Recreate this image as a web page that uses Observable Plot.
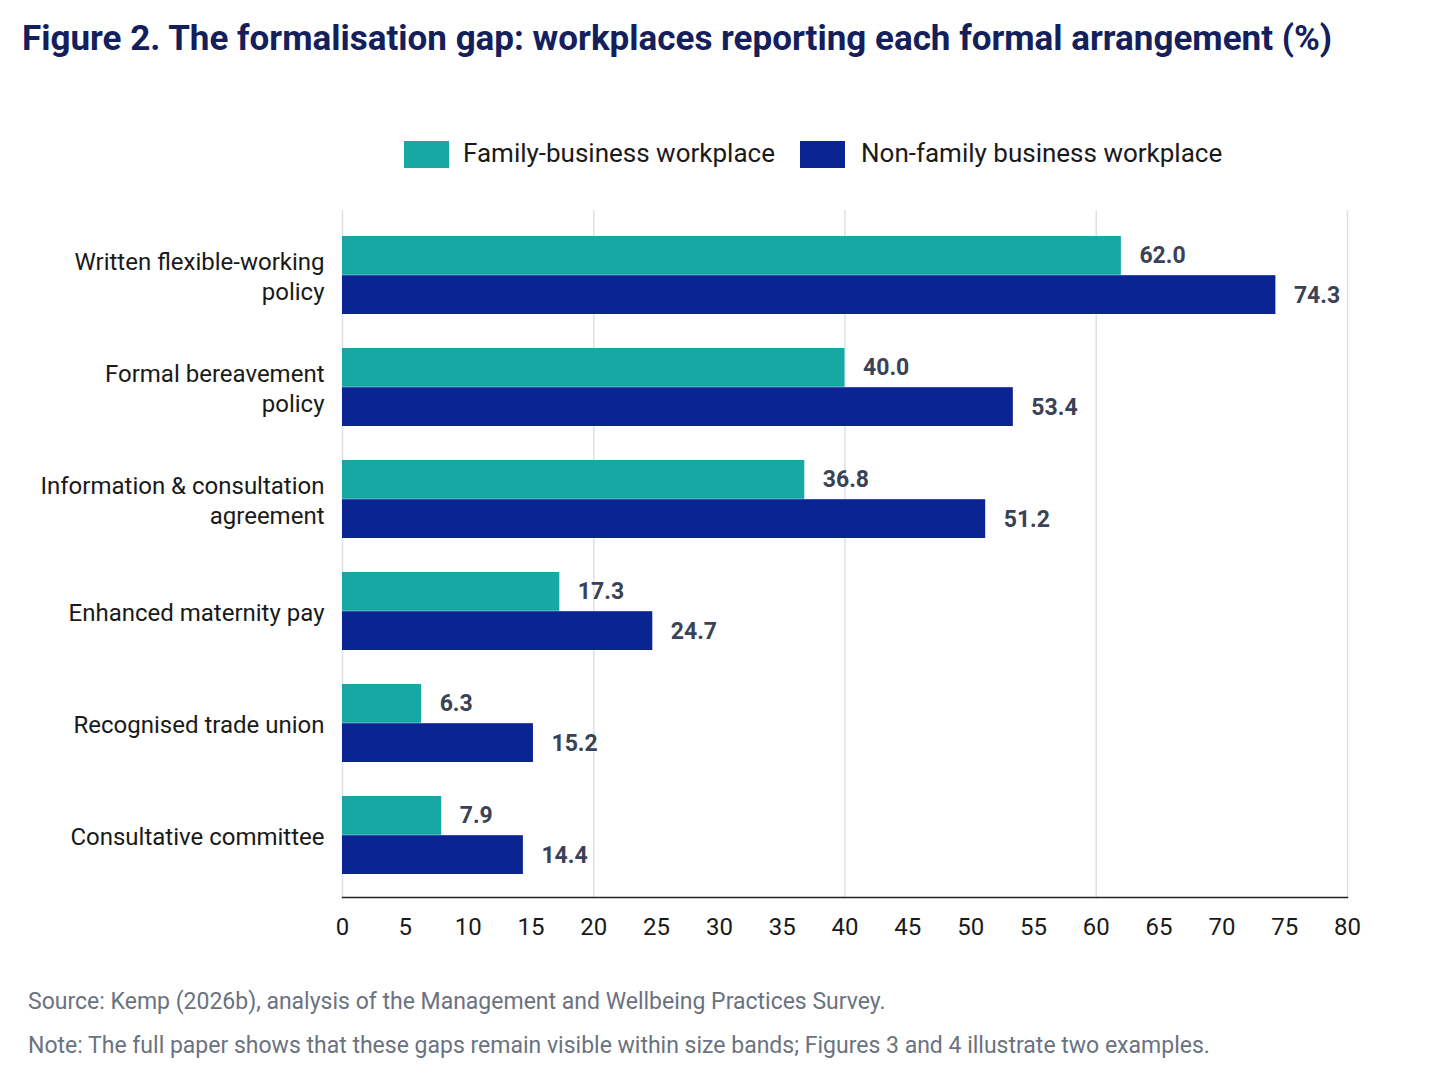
<!DOCTYPE html>
<html><head><meta charset="utf-8">
<script src="https://cdn.jsdelivr.net/npm/d3@7"></script>
<script src="https://cdn.jsdelivr.net/npm/@observablehq/plot@0.6"></script>
<style>
body{margin:0;background:#fff;font-family:"Liberation Sans Narrow","Roboto",sans-serif;}
#wrap{position:relative;width:1448px;height:1086px;}
.abs{position:absolute;white-space:nowrap;}
#title{left:22px;top:18px;font-size:35px;font-weight:bold;color:#14205c;}
.sw{position:absolute;width:45px;height:27px;top:141px;}
.lg{top:138px;font-size:26px;color:#1a1a1a;}
.src{left:28px;font-size:23px;color:#6b7280;}
</style></head><body>
<div id="wrap">
<div id="chart" class="abs" style="left:0;top:0"></div>
<div id="title" class="abs">Figure 2. The formalisation gap: workplaces reporting each formal arrangement (%)</div>
<div class="sw" style="left:404px;background:#17a8a4"></div>
<div class="abs lg" style="left:463px">Family-business workplace</div>
<div class="sw" style="left:800px;background:#0a2494"></div>
<div class="abs lg" style="left:861px">Non-family business workplace</div>
<div class="abs src" style="top:988px">Source: Kemp (2026b), analysis of the Management and Wellbeing Practices Survey.</div>
<div class="abs src" style="top:1032px">Note: The full paper shows that these gaps remain visible within size bands; Figures 3 and 4 illustrate two examples.</div>
</div>
<script>
const categories = ["Written flexible-working\npolicy","Formal bereavement\npolicy","Information & consultation\nagreement","Enhanced maternity pay","Recognised trade union","Consultative committee"];
const familyValues = [62.0,40.0,36.8,17.3,6.3,7.9];
const nonFamilyValues = [74.3,53.4,51.2,24.7,15.2,14.4];
const xTicks = [0,20,40,60,80];
const fam = categories.map((c,i)=>({cat:c,v:familyValues[i]}));
const non = categories.map((c,i)=>({cat:c,v:nonFamilyValues[i]}));
const lblFont = {fontSize:23,fontWeight:"bold",fill:"#3a4256",textAnchor:"start",dx:18};
const p = Plot.plot({
  width:1448,height:1086,marginLeft:342,marginRight:101,marginTop:210,marginBottom:189,
  style:{fontFamily:'"Liberation Sans Narrow","Roboto",sans-serif',background:"transparent"},
  x:{domain:[0,80],ticks:xTicks,tickFormat:d=>d+"%"},
  y:{domain:categories,range:[219,891],paddingInner:0.3,paddingOuter:0.15},
  marks:[
    Plot.ruleX(xTicks,{stroke:"#dde0e6",strokeWidth:1.5}),
    Plot.barX(fam,{y:"cat",x:"v",fill:"#17a8a4",insetBottom:39.2}),
    Plot.barX(non,{y:"cat",x:"v",fill:"#0a2494",insetTop:39.2}),
    Plot.text(fam,{y:"cat",x:"v",text:d=>d.v.toFixed(1),dy:-20,...lblFont}),
    Plot.text(non,{y:"cat",x:"v",text:d=>d.v.toFixed(1),dy:20,...lblFont}),
    Plot.frame({anchor:"bottom",stroke:"#222",strokeWidth:1.5}),
    Plot.axisX({tickSize:0,tickPadding:20,fontSize:24,fill:"#1a1a1a",label:null}),
    Plot.axisY({tickSize:0,tickPadding:18,fontSize:24,fill:"#1a1a1a",label:null,lineHeight:1.25})
  ]
});
document.getElementById("chart").appendChild(p);
</script>
</body></html>
